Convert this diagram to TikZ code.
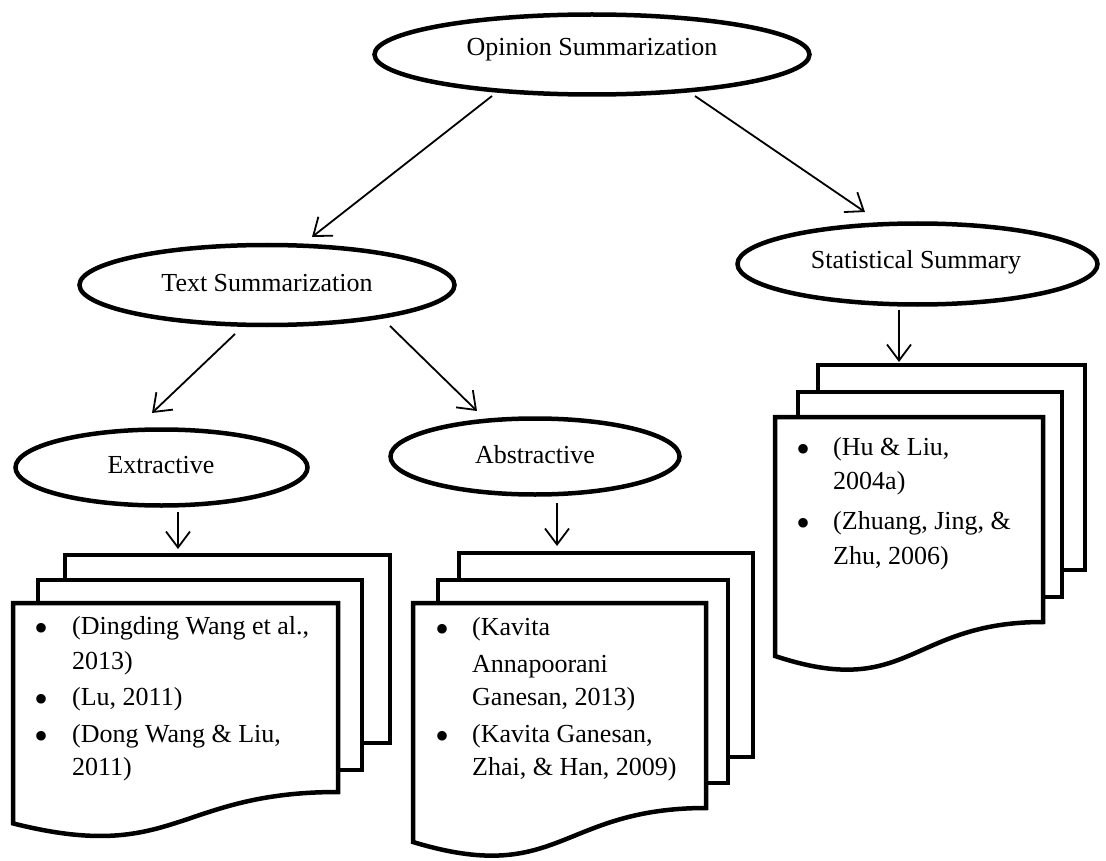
\documentclass[tikz,border=0pt]{standalone}
\usepackage{fontspec}
\setmainfont{Liberation Serif}
\usetikzlibrary{shapes.geometric,arrows.meta}
\tikzset{
  ell/.style={draw, ellipse, line width=4.5pt, inner sep=0pt, fill=white},
  lbl/.style={inner sep=0pt, font=\fontsize{26}{30}\selectfont},
  itm/.style={inner sep=0pt, anchor=mid west, font=\fontsize{26}{30}\selectfont},
  bul/.style={inner sep=0pt, anchor=center, font=\fontsize{40}{40}\selectfont},
  conn/.style={line width=1.8pt, -{Straight Barb[length=16pt,width=24pt,line width=1.8pt]}},
  docline/.style={line width=4.5pt, line join=miter, fill=white},
}
\begin{document}
\begin{tikzpicture}[x=1pt,y=-1pt]
\useasboundingbox (0,0) rectangle (1106,861);

% ellipses
\node[ell, minimum width=435pt, minimum height=80pt] (op) at (592,54.5) {};
\node[lbl] (opt) at (592,50) {Opinion Summarization};
\node[ell, minimum width=375pt, minimum height=80pt] (ts) at (267,285) {};
\node[lbl] (tst) at (267,283) {Text Summarization};
\node[ell, minimum width=360pt, minimum height=81pt] (ss) at (917.5,264) {};
\node[lbl] (sst) at (916,262) {Statistical Summary};
\node[ell, minimum width=292pt, minimum height=76pt] (ex) at (161.5,467.5) {};
\node[lbl] (ext) at (161,465) {Extractive};
\node[ell, minimum width=289pt, minimum height=76pt] (ab) at (535,456.5) {};
\node[lbl] (abt) at (535,455) {Abstractive};

% connector end points
\coordinate (c1a) at (492,96);  \coordinate (c1b) at (312,237);
\coordinate (c2a) at (695,96);  \coordinate (c2b) at (865,212);
\coordinate (c3a) at (235,334); \coordinate (c3b) at (152,413);
\coordinate (c4a) at (390,326); \coordinate (c4b) at (477,411);
\coordinate (c5a) at (178,512); \coordinate (c5b) at (178,549);
\coordinate (c6a) at (557,503); \coordinate (c6b) at (557,546);
\coordinate (c7a) at (899,310); \coordinate (c7b) at (899,362);
\draw[conn] (c1a) -- (c1b);
\draw[conn] (c2a) -- (c2b);
\draw[conn] (c3a) -- (c3b);
\draw[conn] (c4a) -- (c4b);
\draw[conn] (c5a) -- (c5b);
\draw[conn] (c6a) -- (c6b);
\draw[conn] (c7a) -- (c7b);

% Extractive stack
\draw[docline] (65,580) -- (65,555) -- (390,555) -- (390,743) -- (362,743);
\draw[docline] (38,603) -- (38,580) -- (362,580) -- (362,770) -- (338,770);
\draw[docline] (13,603) -- (338,603) -- (338,792)
  .. controls (175.5,792) and (175.5,864.4) .. (13,823.4) -- cycle;

% Abstractive stack
\draw[docline] (459,580) -- (459,553) -- (753,553) -- (753,757) -- (728,757);
\draw[docline] (438,603) -- (438,580) -- (728,580) -- (728,783) -- (706,783);
\draw[docline] (413,603) -- (706,603) -- (706,808)
  .. controls (559.5,808) and (559.5,886.5) .. (413,842) -- cycle;

% Statistical stack
\draw[docline] (818,392) -- (818,365) -- (1085,365) -- (1085,570) -- (1062,570);
\draw[docline] (798,417) -- (798,392) -- (1062,392) -- (1062,597) -- (1043,597);
\draw[docline] (775,417) -- (1043,417) -- (1043,622)
  .. controls (909,622) and (909,700.5) .. (775,656) -- cycle;

% Extractive items
\node[bul] (eb1) at (42,632) {•};
\node[itm] (e1) at (72,632) {(Dingding Wang et al.,};
\node[itm] (e2) at (72,667) {2013)};
\node[bul] (eb2) at (42,703) {•};
\node[itm] (e3) at (72,703) {(Lu, 2011)};
\node[bul] (eb3) at (42,740) {•};
\node[itm] (e4) at (72,740) {(Dong Wang \& Liu,};
\node[itm] (e5) at (72,773) {2011)};

% Abstractive items
\node[bul] (ab1) at (442,633) {•};
\node[itm] (a1) at (472,633) {(Kavita};
\node[itm] (a2) at (472,670) {Annapoorani};
\node[itm] (a3) at (472,703) {Ganesan, 2013)};
\node[bul] (ab2) at (442,740) {•};
\node[itm] (a4) at (472,740) {(Kavita Ganesan,};
\node[itm] (a5) at (472,773) {Zhai, \& Han, 2009)};

% Statistical items
\node[bul] (sb1) at (803,453) {•};
\node[itm] (s1) at (833,453) {(Hu \& Liu,};
\node[itm] (s2) at (833,487) {2004a)};
\node[bul] (sb2) at (803,527) {•};
\node[itm] (s3) at (833,527) {(Zhuang, Jing, \&};
\node[itm] (s4) at (833,562) {Zhu, 2006)};
\end{tikzpicture}
\end{document}
